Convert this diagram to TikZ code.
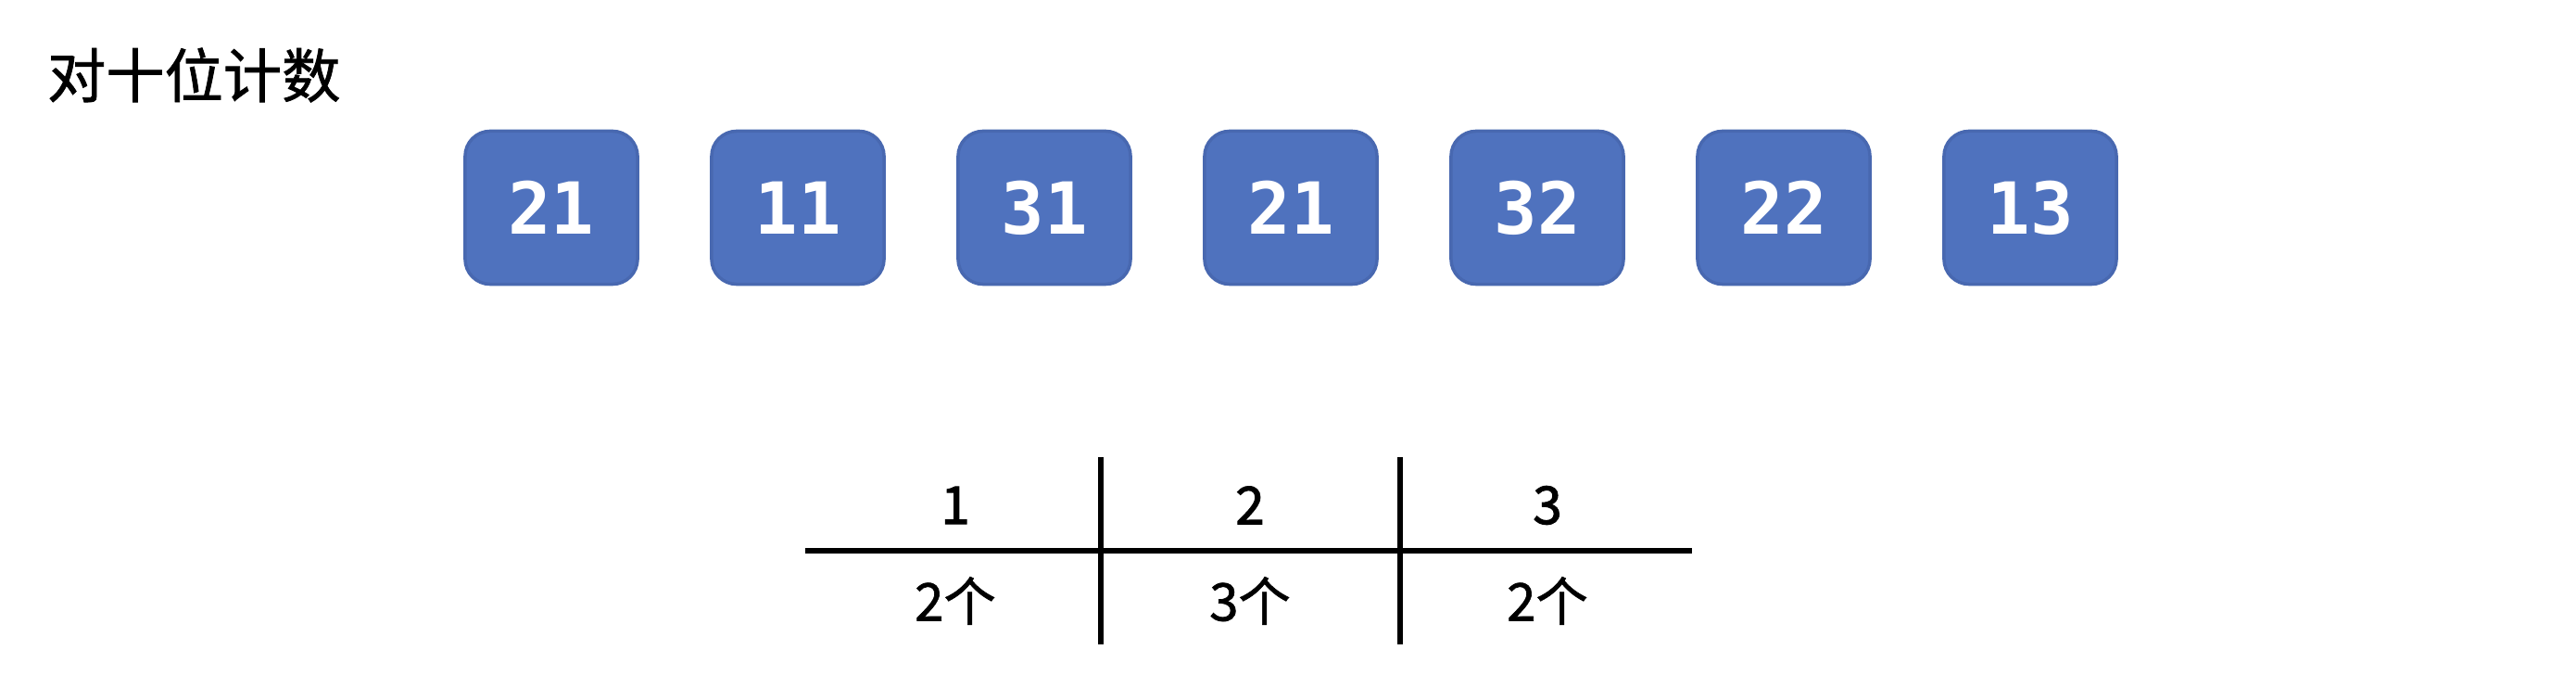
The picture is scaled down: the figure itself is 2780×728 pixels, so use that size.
\documentclass[tikz,border=0pt]{standalone}
\usepackage{fontspec}
\newfontfamily\cjk{Noto Sans CJK SC}
\newfontfamily\cjkm[FakeBold=1.2]{Noto Sans CJK SC}
\newfontfamily\cjkb[FakeBold=2]{Noto Sans CJK SC}
\newfontfamily\monob{DejaVu Sans Mono Bold}
\definecolor{boxblue}{RGB}{79,114,190}
\definecolor{boxedge}{RGB}{72,104,176}
\tikzset{
  numbox/.style={draw=boxedge,line width=1pt,fill=boxblue,rounded corners=0.27cm,minimum width=1.86cm,minimum height=1.65cm,
    text=white,font=\monob\fontsize{22}{22}\selectfont,inner sep=0pt},
  cell/.style={font=\cjkm\fontsize{16}{16}\selectfont,inner sep=0pt},
  head/.style={font=\cjkb\fontsize{16}{16}\selectfont,inner sep=0pt}
}
\begin{document}
\begin{tikzpicture}[x=0.01cm,y=-0.01cm,line width=1.7pt]
\useasboundingbox (0,0) rectangle (2780,728);
\node[anchor=west,font=\cjkm\fontsize{18}{18}\selectfont,inner sep=0pt] (title) at (48,81) {对十位计数};
\foreach \v [count=\i] in {21,11,31,21,32,22,13}
  \node[numbox] (n\i) at ({595+266*(\i-1)},224) {\v};
% table of tens digits
\foreach \d/\c/\x [count=\i] in {1/2/1031,2/3/1349,3/2/1670}{
  \node[head] (h\i) at (\x,545) {\d};
  \node[cell] (c\i) at (\x,648) {\c 个};
}
\draw (869,594) -- (1826,594);
\draw (1188,493) -- (1188,695) (1511,493) -- (1511,695);
\end{tikzpicture}
\end{document}
